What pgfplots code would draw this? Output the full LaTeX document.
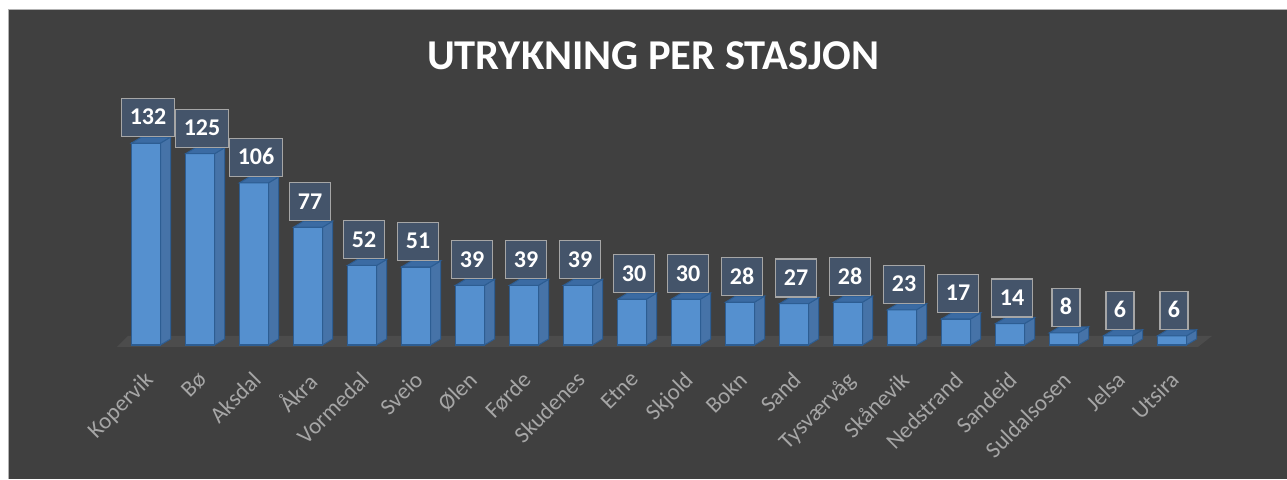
\documentclass[border=0pt]{standalone}
\usepackage{pgfplots}
\usepackage{pgfplotstable}
\pgfplotsset{compat=1.18}
\usepackage{fontspec}
\setmainfont{Carlito}
\definecolor{bgcol}{HTML}{404040}
\definecolor{floorcol}{HTML}{4C4C4C}
\definecolor{frontcol}{HTML}{5590CF}
\definecolor{sidecol}{HTML}{4673A8}
\definecolor{topcol}{HTML}{3B6BA3}
\definecolor{edgecol}{HTML}{2D5D92}
\definecolor{labfill}{HTML}{44546A}
\definecolor{labdraw}{HTML}{A6A6A6}
\definecolor{tickcol}{HTML}{A6A6A6}
\pgfplotstableread{
x name v
0 Kopervik 132
1 Bø 125
2 Aksdal 106
3 Åkra 77
4 Vormedal 52
5 Sveio 51
6 Ølen 39
7 Førde 39
8 Skudenes 39
9 Etne 30
10 Skjold 30
11 Bokn 28
12 Sand 27
13 Tysværvåg 28
14 Skånevik 23
15 Nedstrand 17
16 Sandeid 14
17 Suldalsosen 8
18 Jelsa 6
19 Utsira 6
}\datatable
\begin{document}
\begin{tikzpicture}
\useasboundingbox (0,0) rectangle (1287pt,479pt);
\fill[white] (0,0) rectangle (1287pt,479pt);
\fill[bgcol] (8pt,0) rectangle (1287pt,469pt);
\draw[gray!60, line width=1pt] (8pt,0) -- (8pt,469pt) -- (1287pt,469pt);
\node[font=\bfseries\fontsize{42.5}{44}\selectfont, text=white] at (653pt,423pt) {UTRYKNING PER STASJON};
\begin{axis}[
  at={(146pt,134pt)}, anchor=origin,
  scale only axis, width=1080pt, height=214.2pt,
  xmin=-0.5, xmax=19.5, ymin=0, ymax=140,
  axis lines=none, clip=false,
  /pgf/number format/assume math mode=true,
  xtick={0,...,19},
  xticklabels={Kopervik,Bø,Aksdal,Åkra,Vormedal,Sveio,Ølen,Førde,Skudenes,Etne,Skjold,Bokn,Sand,Tysværvåg,Skånevik,Nedstrand,Sandeid,Suldalsosen,Jelsa,Utsira},
  ytick=\empty,
  major tick length=0pt,
  xticklabel style={xshift=-3pt, yshift=-25pt, rotate=45, anchor=north east, inner sep=0pt,
    font=\fontsize{23}{24}\selectfont, text=tickcol},
  hide x axis=false,
]
% floor
\addplot[fill=floorcol, draw=none] coordinates {(-0.537,-1.3) (19.48,-1.3) (19.74,5.9) (-0.333,5.9)} --cycle;
% front faces
\addplot[ybar, bar width=29pt, fill=frontcol, draw=edgecol, line width=1.2pt,
  nodes near coords,
  every node near coord/.append style={anchor=south, fill=labfill, draw=labdraw, line width=1.2pt,
    text=white, font=\bfseries\fontsize{24}{24}\selectfont, inner xsep=8pt, inner ysep=11.5pt,
    text height=15pt, text depth=0pt, yshift=6pt, xshift=2pt}
] table[x=x, y=v] {\datatable};
% side and top faces
\pgfplotsforeachungrouped \i in {0,...,19}{
  \pgfplotstablegetelem{\i}{v}\of\datatable
  \let\vv\pgfplotsretval
  \pgfmathsetmacro\xa{\i+0.2685}
  \pgfmathsetmacro\xb{\i+0.4537}
  \pgfmathsetmacro\xc{\i-0.2685}
  \pgfmathsetmacro\xd{\i-0.0833}
  \pgfmathsetmacro\vt{\vv+3.92}
  \edef\temp{\noexpand\addplot[fill=sidecol, draw=edgecol, line width=1pt] coordinates {(\xa,0) (\xb,3.92) (\xb,\vt) (\xa,\vv)} --cycle;
   \noexpand\addplot[fill=topcol, draw=edgecol, line width=1pt] coordinates {(\xc,\vv) (\xa,\vv) (\xb,\vt) (\xd,\vt)} --cycle;}
  \temp
}
\end{axis}
\end{tikzpicture}
\end{document}
